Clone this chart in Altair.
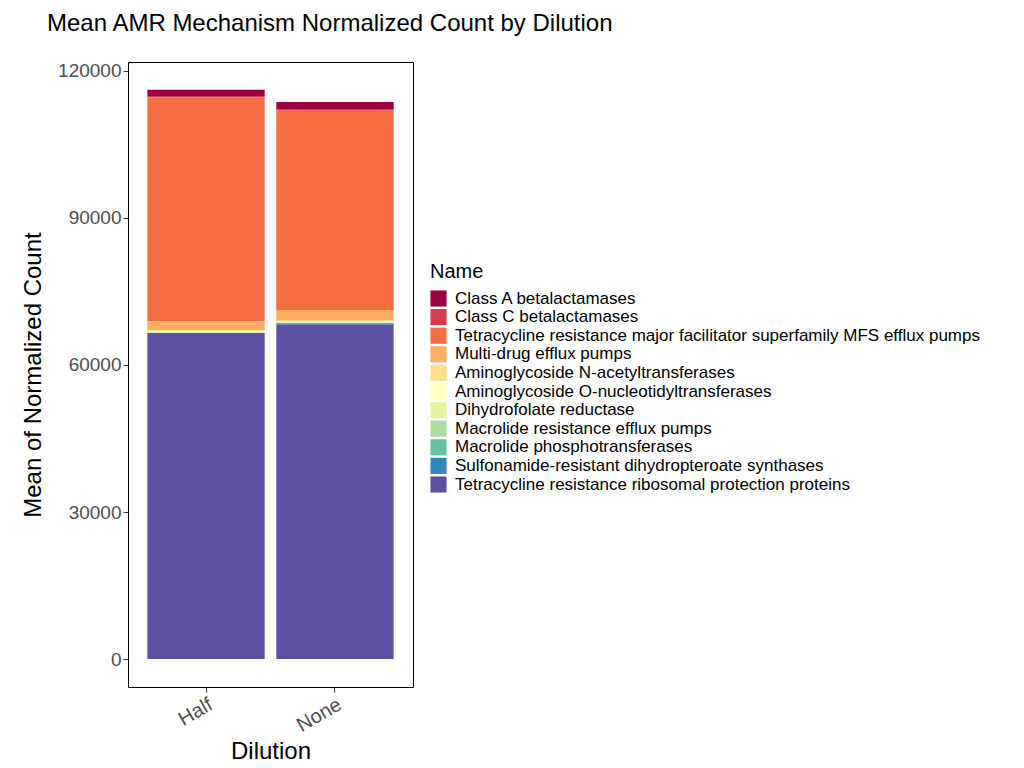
import altair as alt
import pandas as pd

names = [
    "Class A betalactamases",
    "Class C betalactamases",
    "Tetracycline resistance major facilitator superfamily MFS efflux pumps",
    "Multi-drug efflux pumps",
    "Aminoglycoside N-acetyltransferases",
    "Aminoglycoside O-nucleotidyltransferases",
    "Dihydrofolate reductase",
    "Macrolide resistance efflux pumps",
    "Macrolide phosphotransferases",
    "Sulfonamide-resistant dihydropteroate synthases",
    "Tetracycline resistance ribosomal protection proteins",
]
colors = ["#9E0142", "#D53E4F", "#F46D43", "#FDAE61", "#FEE08B", "#FFFFBF",
          "#E6F598", "#ABDDA4", "#66C2A5", "#3288BD", "#5E4FA2"]
half = [1400, 100, 45700, 1800, 300, 200, 50, 30, 20, 30, 66500]
none = [1400, 400, 40600, 2200, 200, 150, 80, 50, 50, 300, 68200]

rows = []
for i, n in enumerate(names):
    rows.append({"Dilution": "Half", "Name": n, "idx": i, "Count": half[i]})
    rows.append({"Dilution": "None", "Name": n, "idx": i, "Count": none[i]})
df = pd.DataFrame(rows)

chart = alt.Chart(df).mark_bar().encode(
    x=alt.X("Dilution:N", title="Dilution",
            scale=alt.Scale(paddingInner=0.09, paddingOuter=0.15),
            axis=alt.Axis(labelAngle=-30, labelFontSize=20, labelColor="#4d4d4d",
                          titleFontSize=24, titleFontWeight="normal", titleColor="black",
                          labelAlign="right", labelBaseline="top", titlePadding=4,
                          domain=False, tickColor="#333", tickSize=5)),
    y=alt.Y("Count:Q", title="Mean of Normalized Count", stack="zero",
            scale=alt.Scale(domain=[-5700, 121800], nice=False, zero=False),
            axis=alt.Axis(values=[0, 30000, 60000, 90000, 120000], format="d",
                          labelFontSize=19, labelColor="#4d4d4d", grid=False,
                          titleFontSize=24, titleFontWeight="normal", titleColor="black",
                          domain=False, tickColor="#333", tickSize=5, titlePadding=12)),
    color=alt.Color("Name:N", title="Name",
                    scale=alt.Scale(domain=names, range=colors),
                    legend=alt.Legend(orient="none", legendX=302, legendY=200,
                                      titleFontSize=20, titleFontWeight="normal",
                                      labelFontSize=17, symbolType="square",
                                      symbolSize=260, symbolStrokeWidth=0,
                                      labelLimit=700, rowPadding=0.6,
                                      titlePadding=8, labelOffset=8)),
    order=alt.Order("idx:Q", sort="descending"),
).properties(
    width=285, height=625,
    title=alt.TitleParams("Mean AMR Mechanism Normalized Count by Dilution",
                          fontSize=24, fontWeight="normal", anchor="start",
                          frame="group", offset=26, dx=-81),
    autosize=alt.AutoSizeParams(type="none"),
    padding={"left": 120, "top": 54, "right": 600, "bottom": 75},
).configure(
    font="Liberation Sans",
    view=alt.ViewConfig(stroke="black", strokeWidth=1),
)

chart.save("out.html", embed_options={"renderer": "svg", "actions": False})
